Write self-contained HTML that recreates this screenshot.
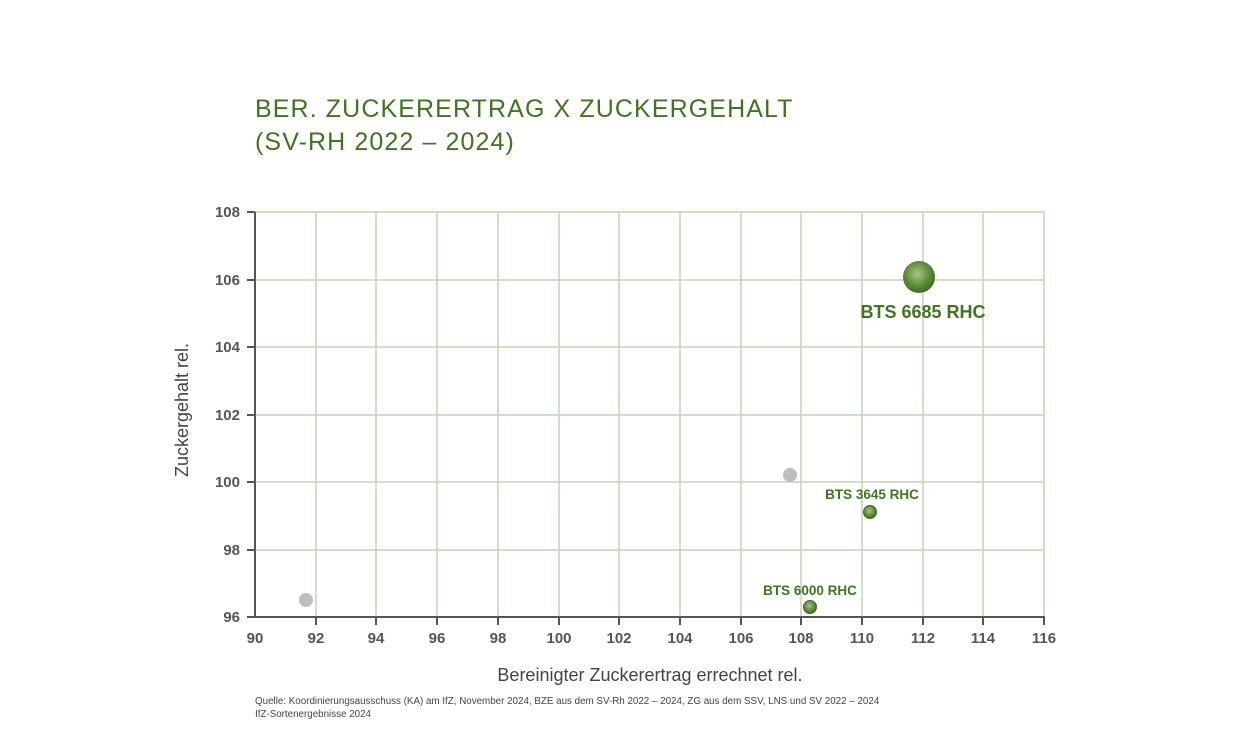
<!DOCTYPE html>
<html><head><meta charset="utf-8"><style>
body{margin:0;background:#fff;}
svg{display:block;font-family:"Liberation Sans",sans-serif;}
</style></head><body>
<svg width="1240" height="748" viewBox="0 0 1240 748" xmlns="http://www.w3.org/2000/svg">
<defs>
<radialGradient id="g" cx="0.45" cy="0.4" r="0.6">
<stop offset="0" stop-color="#a8c48a"/><stop offset="0.6" stop-color="#5f8f3c"/><stop offset="1" stop-color="#3d6b22"/>
</radialGradient>
</defs>
<text x="255" y="117" font-size="25" fill="#3f7421" letter-spacing="1.1">BER. ZUCKERERTRAG X ZUCKERGEHALT</text>
<text x="255" y="150" font-size="25" fill="#3f7421" letter-spacing="1.1">(SV-RH 2022 – 2024)</text>
<g stroke="#c3d4b4" stroke-width="1.5">
<line x1="316" y1="212" x2="316" y2="617"/><line x1="376" y1="212" x2="376" y2="617"/>
<line x1="437" y1="212" x2="437" y2="617"/><line x1="498" y1="212" x2="498" y2="617"/>
<line x1="559" y1="212" x2="559" y2="617"/><line x1="619" y1="212" x2="619" y2="617"/>
<line x1="680" y1="212" x2="680" y2="617"/><line x1="741" y1="212" x2="741" y2="617"/>
<line x1="801" y1="212" x2="801" y2="617"/><line x1="862" y1="212" x2="862" y2="617"/>
<line x1="923" y1="212" x2="923" y2="617"/><line x1="983" y1="212" x2="983" y2="617"/>
<line x1="1044" y1="212" x2="1044" y2="617"/>
<line x1="255" y1="212" x2="1044" y2="212"/><line x1="255" y1="280" x2="1044" y2="280"/>
<line x1="255" y1="347" x2="1044" y2="347"/><line x1="255" y1="415" x2="1044" y2="415"/>
<line x1="255" y1="482" x2="1044" y2="482"/><line x1="255" y1="550" x2="1044" y2="550"/>
</g>
<g stroke="#555" stroke-width="2">
<line x1="255" y1="212" x2="255" y2="618"/><line x1="254" y1="617" x2="1045" y2="617"/>
<line x1="247" y1="212" x2="255" y2="212"/><line x1="247" y1="280" x2="255" y2="280"/>
<line x1="247" y1="347" x2="255" y2="347"/><line x1="247" y1="415" x2="255" y2="415"/>
<line x1="247" y1="482" x2="255" y2="482"/><line x1="247" y1="550" x2="255" y2="550"/>
<line x1="247" y1="617" x2="255" y2="617"/>
<line x1="316" y1="617" x2="316" y2="625"/><line x1="376" y1="617" x2="376" y2="625"/>
<line x1="437" y1="617" x2="437" y2="625"/><line x1="498" y1="617" x2="498" y2="625"/>
<line x1="559" y1="617" x2="559" y2="625"/><line x1="619" y1="617" x2="619" y2="625"/>
<line x1="680" y1="617" x2="680" y2="625"/><line x1="741" y1="617" x2="741" y2="625"/>
<line x1="801" y1="617" x2="801" y2="625"/><line x1="862" y1="617" x2="862" y2="625"/>
<line x1="923" y1="617" x2="923" y2="625"/><line x1="983" y1="617" x2="983" y2="625"/>
<line x1="1044" y1="617" x2="1044" y2="625"/>
</g>
<g font-size="15" font-weight="bold" fill="#555" text-anchor="end">
<text x="240" y="217">108</text><text x="240" y="285">106</text><text x="240" y="352">104</text>
<text x="240" y="420">102</text><text x="240" y="487">100</text><text x="240" y="555">98</text><text x="240" y="622">96</text>
</g>
<g font-size="15" font-weight="bold" fill="#555" text-anchor="middle">
<text x="255" y="643">90</text><text x="316" y="643">92</text><text x="376" y="643">94</text><text x="437" y="643">96</text>
<text x="498" y="643">98</text><text x="559" y="643">100</text><text x="619" y="643">102</text><text x="680" y="643">104</text>
<text x="741" y="643">106</text><text x="801" y="643">108</text><text x="862" y="643">110</text><text x="923" y="643">112</text>
<text x="983" y="643">114</text><text x="1044" y="643">116</text>
</g>
<text x="650" y="681" font-size="18" fill="#444" text-anchor="middle">Bereinigter Zuckerertrag errechnet rel.</text>
<text transform="translate(188,410) rotate(-90)" font-size="18" fill="#444" text-anchor="middle">Zuckergehalt rel.</text>
<circle cx="306" cy="600" r="7" fill="#bdbdbd"/>
<circle cx="790" cy="475" r="7" fill="#bdbdbd"/>
<circle cx="810" cy="607" r="6.5" fill="url(#g)" stroke="#3d6b22"/>
<circle cx="870" cy="512" r="6.5" fill="url(#g)" stroke="#3d6b22"/>
<circle cx="919" cy="277" r="16" fill="url(#g)"/>
<g font-weight="bold" fill="#3f7421">
<text x="923" y="318" font-size="18" text-anchor="middle">BTS 6685 RHC</text>
<text x="872" y="499" font-size="13.5" text-anchor="middle">BTS 3645 RHC</text>
<text x="810" y="595" font-size="13.5" text-anchor="middle">BTS 6000 RHC</text>
</g>
<text x="255" y="704" font-size="9.8" fill="#444">Quelle: Koordinierungsausschuss (KA) am IfZ, November 2024, BZE aus dem SV-Rh 2022 – 2024, ZG aus dem SSV, LNS und SV 2022 – 2024</text>
<text x="255" y="717" font-size="9.8" fill="#444">IfZ-Sortenergebnisse 2024</text>
</svg>
</body></html>
